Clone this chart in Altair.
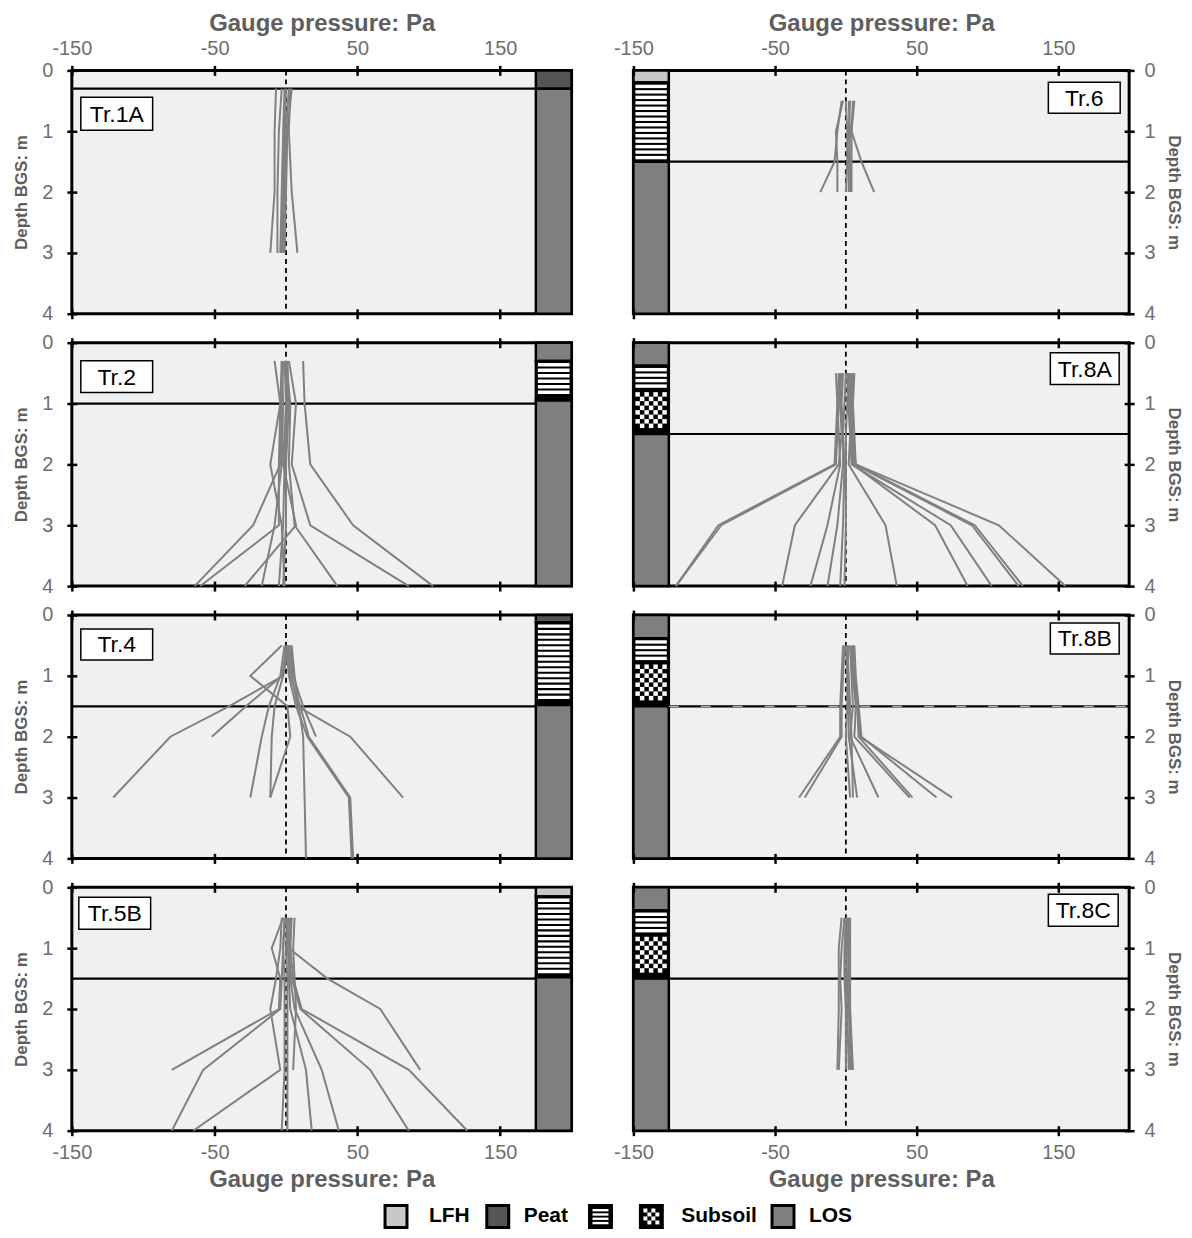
import altair as alt
import pandas as pd
import numpy as np

FONT = "Liberation Sans"
TXT_LAB = "#6e6e6e"
TXT_TITLE = "#5e5e5e"
LINE_GREY = "#808080"

# ---------------- data ----------------
panel_order = ["Tr.1A", "Tr.6", "Tr.2", "Tr.8A", "Tr.4", "Tr.8B", "Tr.5B", "Tr.8C"]

depth_1a = [0.3, 1, 2, 3]
prof_1a = [
    [-7, -8, -8, -11],
    [-3, -5, -6, -6],
    [-1, -2, -3, -4],
    [4, 1, 0, -1],
    [3, 2, 4, 8],
    [0, -1, -2, -3],
    [2, 0, -1, -2],
]

depth_6 = [0.5, 1, 1.5, 2]
prof_6 = [
    [-3, -6, -8, -18],
    [-2, -7, -6, -6],
    [0, 1, 1, 0],
    [3, 2, 3, 3],
    [6, 4, 11, 20],
    [2, 3, 2, 2],
    [5, 4, 4, 4],
]

depth_2 = [0.3, 1, 2, 3, 4]
prof_2 = [
    [12, 13, 17, 47, 103],
    [2, 7, 4, 17, 86],
    [0, 3, 2, 6, 36],
    [-2, -3, -4, -23, -64],
    [-8, -4, -5, -5, -60],
    [-1, 0, -2, 7, -29],
    [-3, -2, -3, -8, -17],
    [0, 1, -1, -2, -5],
    [1, 2, 0, 0, -2],
    [-3, -4, -11, -3, -1],
]

depth_8a = [0.5, 1, 1.5, 2, 3, 4]
prof_8a = [
    [-5, -6, -7, -8, -90, -120],
    [-4, -5, -6, -7, -88, -120],
    [-3, -4, -3, -5, -36, -45],
    [-7, -6, -5, -4, -13, -25],
    [-2, -3, -2, -2, -6, -13],
    [0, -1, -2, -1, -2, -4],
    [2, 1, 0, 0, 0, -1],
    [3, 2, 3, 2, 28, 36],
    [4, 3, 4, 5, 63, 86],
    [1, 2, 3, 4, 74, 103],
    [5, 4, 5, 6, 89, 122],
    [2, 3, 4, 7, 91, 125],
    [6, 5, 6, 7, 108, 155],
]

depth_4 = [0.5, 1, 1.5, 2, 3, 4]
prof_4 = [
    [-3, -25, 1, 3, -11],
    [0, -2, -40, -81, -121],
    [1, -3, -28, -52],
    [-1, -4, -12, -17, -25],
    [2, -2, -8, -10, -11],
    [4, 6, 9, 12, 13, 14],
    [1, 3, 10, 16, 45, 47],
    [3, 5, 12, 21],
    [2, 4, 8, 45, 82],
    [0, 2, 7, 15, 44, 46],
]

depth_8b = [0.5, 1, 1.5, 2, 3]
prof_8b = [
    [-2, -3, -4, -4, -33],
    [-1, -2, -3, -3, -29],
    [0, 1, 1, 0, 3],
    [2, 1, 2, 2, 8],
    [3, 4, 5, 3, 23],
    [4, 5, 7, 6, 45],
    [5, 6, 8, 9, 47],
    [6, 7, 9, 11, 64],
    [5, 5, 8, 10, 75],
    [1, 2, 3, 4, 5],
]

depth_5b = [0.5, 1, 1.5, 2, 3, 4]
prof_5b = [
    [-2, -10, -4, -5, -80],
    [0, 2, 29, 66, 94],
    [2, 3, 5, 11, 86, 127],
    [3, 1, 4, 10, 59, 86],
    [-1, -2, -3, -4, -58, -80],
    [-3, -4, -7, -11, -4, -65],
    [-1, -2, -1, -1, -1, -3],
    [1, 0, 1, 1, 1, 1],
    [4, 3, 2, 3, 14, 18],
    [6, 5, 6, 7, 5],
    [0, 1, 3, 6, 25, 37],
]

depth_8c = [0.5, 1, 1.5, 2, 3]
prof_8c = [
    [-3, -5, -5, -5, -6],
    [-1, -3, -4, -3, -5],
    [0, -1, -1, 0, 0],
    [2, 1, 0, 1, 2],
    [3, 2, 2, 3, 5],
    [1, 0, 1, 2, 4],
    [3, 3, 3, 3, 3],
]

profiles = {
    "Tr.1A": (depth_1a, prof_1a),
    "Tr.6": (depth_6, prof_6),
    "Tr.2": (depth_2, prof_2),
    "Tr.8A": (depth_8a, prof_8a),
    "Tr.4": (depth_4, prof_4),
    "Tr.8B": (depth_8b, prof_8b),
    "Tr.5B": (depth_5b, prof_5b),
    "Tr.8C": (depth_8c, prof_8c),
}

water_table = {"Tr.1A": 0.3, "Tr.6": 1.5, "Tr.2": 1.0, "Tr.8A": 1.5,
               "Tr.4": 1.5, "Tr.8B": 1.5, "Tr.5B": 1.5, "Tr.8C": 1.5}

tr8_layers = [(0, 0.38, "LOS"), (0.38, 0.78, "Stripe"), (0.78, 1.5, "Subsoil"), (1.5, 4, "LOS")]
soil_layers = {
    "Tr.1A": [(0, 0.3, "Peat"), (0.3, 4, "LOS")],
    "Tr.6": [(0, 0.2, "LFH"), (0.2, 1.5, "Stripe"), (1.5, 4, "LOS")],
    "Tr.2": [(0, 0.3, "LOS"), (0.3, 0.95, "Stripe"), (0.95, 4, "LOS")],
    "Tr.8A": tr8_layers,
    "Tr.4": [(0, 0.12, "Peat"), (0.12, 1.48, "Stripe"), (1.48, 4, "LOS")],
    "Tr.8B": tr8_layers,
    "Tr.5B": [(0, 0.15, "LFH"), (0.15, 1.48, "Stripe"), (1.48, 4, "LOS")],
    "Tr.8C": tr8_layers,
}

soil_kinds = ["LFH", "Peat", "Stripe", "Subsoil", "LOS"]
soil_colors = ["#c8c8c8", "#555555", "#000000", "#000000", "#7f7f7f"]

x_ticks = [-150, -50, 50, 150]
y_ticks = [0, 1, 2, 3, 4]

# label box placement (pixels inside plot area)
label_box = {
    "Tr.1A": (9, 27, 72, 33), "Tr.2": (9, 18, 72, 32), "Tr.4": (9, 14, 72, 31),
    "Tr.5B": (7, 10, 72, 32), "Tr.6": (416, 12, 72, 31), "Tr.8A": (418, 10, 69, 32),
    "Tr.8B": (418, 8, 69, 31), "Tr.8C": (416, 7, 70, 32),
}

# ---------------- layout ----------------
W_LEFT, W_RIGHT, H = 501, 497, 244
PX_PER_M = H / 4.0
ROW_GAP, COL_GAP = 29, 62

xs = alt.Scale(domain=[-150, 200], nice=False, zero=False)
ys = alt.Scale(domain=[0, 4], reverse=True, nice=False, zero=False)
HYPHEN = "'' + datum.value"


def x_axis(orient, labeled):
    kw = dict(orient=orient, values=x_ticks, labels=labeled, offset=-5, tickSize=10,
              tickWidth=2.5, tickColor="black", domain=False, grid=False,
              labelFont=FONT, labelFontSize=20, labelColor=TXT_LAB,
              labelPadding=7,
              labelExpr=HYPHEN, labelFlush=False, labelOverlap=False, zindex=1)
    if labeled:
        kw.update(title="Gauge pressure: Pa", titleFont=FONT, titleFontSize=24,
                  titleFontWeight="bold", titleColor=TXT_TITLE,
                  titlePadding=3 if orient == "top" else 5)
    else:
        kw.update(title=None)
    return alt.Axis(**kw)


def y_axis(orient):
    return alt.Axis(orient=orient, values=y_ticks, offset=-5, tickSize=10,
                    tickWidth=2.5, tickColor="black", domain=False, grid=False,
                    labelFont=FONT, labelFontSize=20, labelColor=TXT_LAB,
                    labelPadding=14 if orient == "left" else 10,
                    labelExpr=HYPHEN, labelFlush=False, labelOverlap=False, zindex=1,
                    title="Depth BGS: m", titleFont=FONT, titleFontSize=17,
                    titleFontWeight="bold", titleColor=TXT_TITLE,
                    titlePadding=11 if orient == "left" else 9)


def make_panel(name, col, row):
    width = W_LEFT if col == 0 else W_RIGHT
    cx1, cx2 = (175, 200) if col == 0 else (-150, -125)
    px_pa = width / 350.0

    soil_df = pd.DataFrame([{"top": t, "bottom": b, "kind": k, "x1": cx1, "x2": cx2}
                            for t, b, k in soil_layers[name]])
    soil = alt.Chart(soil_df).mark_rect(stroke="black", strokeWidth=2.5).encode(
        x=alt.X("x1:Q", scale=xs, axis=None), x2="x2:Q",
        y=alt.Y("top:Q", scale=ys, axis=None), y2="bottom:Q",
        fill=alt.Fill("kind:N", scale=alt.Scale(domain=soil_kinds, range=soil_colors), legend=None),
    )

    # stripe and checker textures of the soil column
    tex = []
    ins_x = 2.0 / px_pa
    for t, b, k in soil_layers[name]:
        if k == "Stripe":
            period, bar, ins = 0.09, 0.056, 0.035
            y = t + ins
            while y + bar <= b - ins + 1e-9:
                tex.append({"x1": cx1 + ins_x, "x2": cx2 - ins_x, "y1": y, "y2": y + bar})
                y += period
        elif k == "Subsoil":
            ncol = 7
            cw = (cx2 - cx1 - 2 * ins_x) / ncol
            ch = cw * px_pa / PX_PER_M
            ins_y = 2.0 / PX_PER_M
            nrow = int((b - t - 2 * ins_y) / ch)
            for i in range(nrow):
                for j in range(ncol):
                    if (i + j) % 2 == 0:
                        tex.append({"x1": cx1 + ins_x + j * cw, "x2": cx1 + ins_x + (j + 1) * cw,
                                    "y1": t + ins_y + i * ch, "y2": t + ins_y + (i + 1) * ch})
    tex_df = pd.DataFrame(tex if tex else [{"x1": cx1, "x2": cx1, "y1": 0, "y2": 0}])
    texture = alt.Chart(tex_df).mark_rect(fill="white", strokeWidth=0).encode(
        x=alt.X("x1:Q", scale=xs, axis=None), x2="x2:Q",
        y=alt.Y("y1:Q", scale=ys, axis=None), y2="y2:Q",
    )

    # water-table line
    wx1, wx2 = (-150, 175) if col == 0 else (-125, 200)
    wt_df = pd.DataFrame({"x1": [wx1], "x2": [wx2], "d": [water_table[name]]})
    wt = alt.Chart(wt_df).mark_rule(color="black", strokeWidth=2.2).encode(
        x=alt.X("x1:Q", scale=xs, axis=None), x2="x2:Q",
        y=alt.Y("d:Q", scale=ys, axis=None),
    )
    layers = [soil, texture, wt]
    if name == "Tr.8B":
        layers.append(alt.Chart(wt_df).mark_rule(color="#b0b0b0", strokeWidth=1.2,
                                                strokeDash=[10, 22]).encode(
            x=alt.X("x1:Q", scale=xs, axis=None), x2="x2:Q",
            y=alt.Y("d:Q", scale=ys, axis=None)))

    z_df = pd.DataFrame({"p": [0], "d1": [0], "d2": [4]})
    zero = alt.Chart(z_df).mark_rule(color="black", strokeWidth=1.8, strokeDash=[5, 4]).encode(
        x=alt.X("p:Q", scale=xs, axis=None),
        y=alt.Y("d1:Q", scale=ys, axis=None), y2="d2:Q",
    )

    depths, profs = profiles[name]
    rows = []
    for i, pr in enumerate(profs):
        for d, p in zip(depths, pr):
            rows.append({"id": i, "d": d, "p": p})
    prof_df = pd.DataFrame(rows)
    lines = alt.Chart(prof_df).mark_line(color=LINE_GREY, strokeWidth=2).encode(
        x=alt.X("p:Q", scale=xs, axis=None),
        y=alt.Y("d:Q", scale=ys, axis=None),
        detail="id:N", order="d:Q",
    )

    bx, by, bw, bh = label_box[name]
    lab_df = pd.DataFrame({"t": [name]})
    box = alt.Chart(lab_df).mark_rect(fill="white", stroke="black", strokeWidth=1.5).encode(
        x=alt.value(bx), x2=alt.value(bx + bw), y=alt.value(by), y2=alt.value(by + bh))
    txt = alt.Chart(lab_df).mark_text(font=FONT, fontSize=23, color="black",
                                      baseline="middle", align="center").encode(
        x=alt.value(bx + bw / 2), y=alt.value(by + bh / 2 + 1), text="t:N")

    ax_df = pd.DataFrame({"p": [-150, 200], "d": [0, 4]})
    carrier_top = alt.Chart(ax_df).mark_point(opacity=0).encode(
        x=alt.X("p:Q", scale=xs, axis=x_axis("top", row == 0)),
        y=alt.Y("d:Q", scale=ys, axis=y_axis("left" if col == 0 else "right")),
    )
    carrier_bot = alt.Chart(ax_df).mark_point(opacity=0).encode(
        x=alt.X("p:Q", scale=xs, axis=x_axis("bottom", row == 3)),
        y=alt.Y("d:Q", scale=ys, axis=None),
    )

    layers += [zero, lines, box, txt, carrier_top, carrier_bot]
    return alt.layer(*layers).resolve_axis(x="independent", y="independent").properties(
        width=width, height=H,
        view=alt.ViewBackground(fill="#f0f0f0", stroke="black", strokeWidth=3),
    )


panels = []
for idx, name in enumerate(panel_order):
    panels.append(make_panel(name, idx % 2, idx // 2))

# ---------------- legend (9th grid cell, spans under both columns) ----------------
leg_names = ["LFH", "Peat", "", "Subsoil", "LOS"]
leg_kinds = ["LFH", "Peat", "Stripe", "Subsoil", "LOS"]
leg_box_x = [314, 416, 519, 570, 702]
leg_text_x = [358, 453, 0, 611, 739]
BOX = 22
LEG_H = 68
LEG_TOP = LEG_H - BOX

lb = pd.DataFrame({"kind": leg_kinds, "x1": leg_box_x,
                   "x2": [v + BOX for v in leg_box_x], "y1": LEG_TOP, "y2": LEG_H})
lx = alt.Scale(domain=[0, W_LEFT], nice=False, zero=False)
ly = alt.Scale(domain=[0, LEG_H], reverse=True, nice=False, zero=False)
leg_boxes = alt.Chart(lb).mark_rect(stroke="black", strokeWidth=3).encode(
    x=alt.X("x1:Q", scale=lx, axis=None), x2="x2:Q",
    y=alt.Y("y1:Q", scale=ly, axis=None), y2="y2:Q",
    fill=alt.Fill("kind:N", scale=alt.Scale(domain=soil_kinds, range=soil_colors), legend=None),
)
ltex = []
sx = leg_box_x[2]
for k in range(4):
    y0 = LEG_TOP + 3.5 + k * 4.3
    ltex.append({"x1": sx + 3, "x2": sx + BOX - 3, "y1": y0, "y2": y0 + 2.4})
cxl = leg_box_x[3]
cell = (BOX - 6) / 4.0
for i in range(4):
    for j in range(4):
        if (i + j) % 2 == 0:
            ltex.append({"x1": cxl + 3 + j * cell, "x2": cxl + 3 + (j + 1) * cell,
                         "y1": LEG_TOP + 3 + i * cell, "y2": LEG_TOP + 3 + (i + 1) * cell})
leg_tex = alt.Chart(pd.DataFrame(ltex)).mark_rect(fill="white", strokeWidth=0).encode(
    x=alt.X("x1:Q", scale=lx, axis=None), x2="x2:Q",
    y=alt.Y("y1:Q", scale=ly, axis=None), y2="y2:Q",
)
lt = pd.DataFrame({"t": leg_names, "x": leg_text_x, "y": LEG_TOP + BOX / 2})
lt = lt[lt["t"] != ""]
leg_text = alt.Chart(lt).mark_text(font=FONT, fontSize=21, fontWeight="bold", color="black",
                                   align="left", baseline="middle").encode(
    x=alt.X("x:Q", scale=lx, axis=None), y=alt.Y("y:Q", scale=ly, axis=None), text="t:N")
legend = alt.layer(leg_boxes, leg_tex, leg_text).properties(
    width=W_LEFT, height=LEG_H, view=alt.ViewBackground(fill=None, stroke=None))

chart = alt.concat(*panels, legend, columns=2, spacing={"row": ROW_GAP, "column": COL_GAP}).properties(
    bounds="flush", padding={"left": 3, "top": 0, "right": 0, "bottom": 0}
).resolve_scale(x="independent", y="independent", fill="independent").configure_view(stroke=None)

chart.save("out.html", embed_options={"renderer": "svg", "actions": False})
